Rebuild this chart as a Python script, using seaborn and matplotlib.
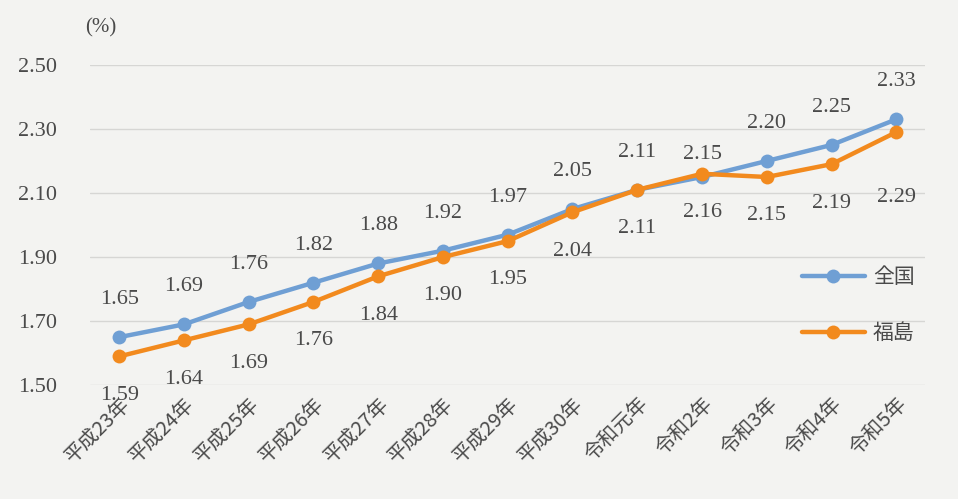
import pandas as pd
import numpy as np
import matplotlib.pyplot as plt
import seaborn as sns

# データ
years = ['平成23年', '平成24年', '平成25年', '平成26年', '平成27年', '平成28年', '平成29年',
         '平成30年', '令和元年', '令和2年', '令和3年', '令和4年', '令和5年']
zenkoku = [1.65, 1.69, 1.76, 1.82, 1.88, 1.92, 1.97, 2.05, 2.11, 2.15, 2.20, 2.25, 2.33]
fukushima = [1.59, 1.64, 1.69, 1.76, 1.84, 1.90, 1.95, 2.04, 2.11, 2.16, 2.15, 2.19, 2.29]
series_names = ['全国', '福島']
colors = {'全国': '#6f9fd4', '福島': '#f28a1e'}

df = pd.DataFrame({
    'year': years * 2,
    'idx': list(range(len(years))) * 2,
    'value': zenkoku + fukushima,
    'series': ['全国'] * len(years) + ['福島'] * len(years),
})

sns.set_style('white')
plt.rcParams['font.family'] = ['Liberation Serif', 'Noto Sans CJK JP', 'DejaVu Sans']
bg = '#f3f3f1'
txt = '#4a4a4a'

fig = plt.figure(figsize=(9.58, 4.99), dpi=100, facecolor=bg)
ax = fig.add_axes([0.094, 0.228, 0.872, 0.642])
ax.set_facecolor(bg)

sns.lineplot(data=df, x='idx', y='value', hue='series', palette=colors, hue_order=series_names,
             marker='o', markersize=10, markeredgewidth=0, linewidth=3.2, ax=ax, clip_on=False)

# データラベル（全国は上、福島は下）; 重なる所だけずらす
off_z = {9: 16}
off_f = {12: 47}
for i in range(len(years)):
    ax.annotate(f'{zenkoku[i]:.2f}', (i, zenkoku[i]), xytext=(0, off_z.get(i, 27)),
                textcoords='offset points', ha='center', va='center', fontsize=16, color=txt)
    ax.annotate(f'{fukushima[i]:.2f}', (i, fukushima[i]), xytext=(0, -off_f.get(i, 28)),
                textcoords='offset points', ha='center', va='center', fontsize=16, color=txt)

ax.set_ylim(1.5, 2.5)
ax.set_yticks([1.50, 1.70, 1.90, 2.10, 2.30, 2.50])
ax.set_yticklabels([f'{v:.2f}' for v in [1.50, 1.70, 1.90, 2.10, 2.30, 2.50]])
ax.set_xlim(-0.45, 12.45)
ax.set_xticks(range(len(years)))
ax.set_xticklabels(years, rotation=45, ha='right', rotation_mode='anchor')
ax.tick_params(axis='y', length=0, pad=24, labelsize=16, labelcolor=txt)
ax.tick_params(axis='x', length=0, pad=6, labelsize=14.5, labelcolor=txt)
for lbl in ax.get_xticklabels():
    lbl.set_family(['Noto Sans CJK JP', 'DejaVu Sans'])
ax.grid(axis='y', color='#d6d6d4', linewidth=1)
ax.set_axisbelow(True)
sns.despine(ax=ax, left=True, bottom=True)
ax.set_xlabel('')
ax.set_ylabel('')

fig.text(0.089, 0.945, '(%)', fontsize=15, color=txt, ha='left', va='center')

leg = ax.legend(loc='center left', bbox_to_anchor=(0.83, 0.25), frameon=False,
                fontsize=15, labelspacing=1.6, handlelength=3.0, handletextpad=0.4)
for t in leg.get_texts():
    t.set_color(txt)
    t.set_family(['Noto Sans CJK JP', 'DejaVu Sans'])

fig.savefig('out.png', dpi=100, facecolor=bg)
